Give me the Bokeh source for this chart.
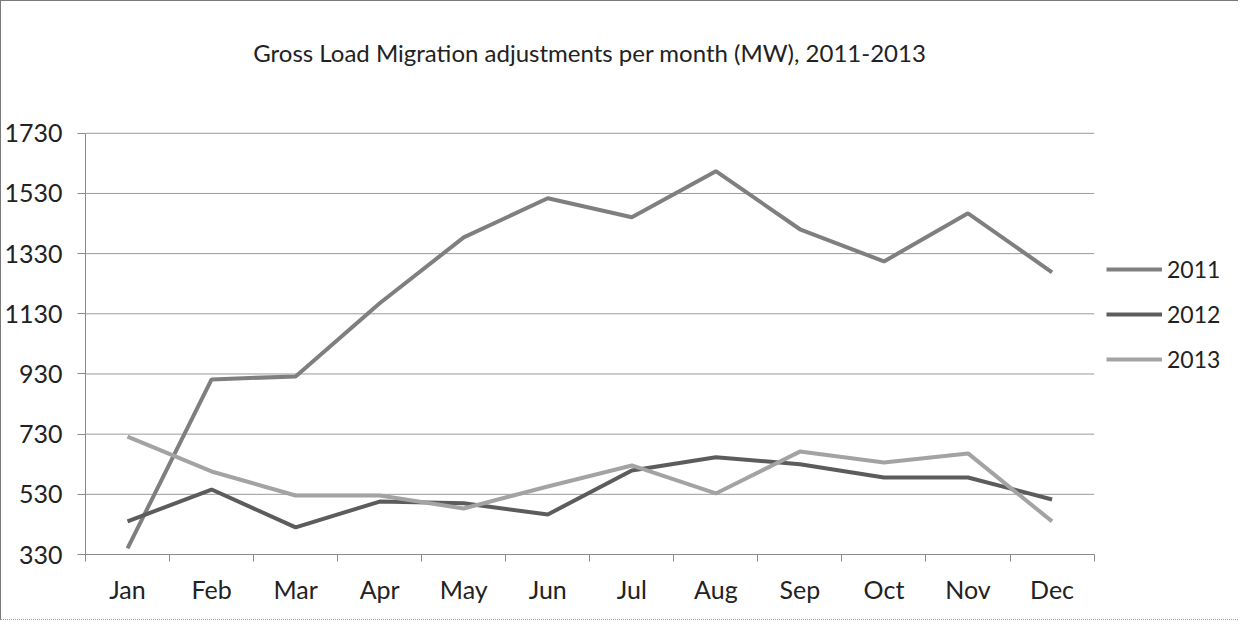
import numpy as np
from bokeh.plotting import figure
from bokeh.models import FixedTicker, Legend, LegendItem, ColumnDataSource, Range1d, Label
from bokeh.embed import file_html
from bokeh.resources import INLINE

months = ["Jan", "Feb", "Mar", "Apr", "May", "Jun", "Jul", "Aug", "Sep", "Oct", "Nov", "Dec"]
y2011 = [350, 912, 922, 1165, 1384, 1514, 1451, 1604, 1411, 1304, 1464, 1268]
y2012 = [440, 546, 420, 506, 500, 463, 609, 653, 630, 586, 586, 513]
y2013 = [722, 606, 526, 526, 483, 556, 626, 533, 672, 636, 666, 440]
y_ticks = [330, 530, 730, 930, 1130, 1330, 1530, 1730]
title_text = "Gross Load Migration adjustments per month (MW), 2011-2013"

FONT = "Lato"
n = len(months)
x = np.arange(n) + 0.5
ymin, ymax = y_ticks[0], y_ticks[-1]

# frame spans the whole canvas except left/bottom axis areas; axes bounded to the chart area
p = figure(width=1238, height=620, output_backend="svg", toolbar_location=None,
           x_range=Range1d(0, 13.73), y_range=Range1d(ymin, 2168),
           min_border_left=80, min_border_right=0, min_border_top=0, min_border_bottom=67)
p.styles = {"border-top": "1px solid #7a7a7a", "border-left": "1px solid #7a7a7a",
            "border-bottom": "1px dotted #9a9a9a"}
p.outline_line_color = None
p.background_fill_color = "white"
p.border_fill_color = "white"

# grid lines limited to the chart area
p.xgrid.grid_line_color = None
p.ygrid.grid_line_color = None
grid_src = ColumnDataSource(dict(x0=[0] * len(y_ticks), x1=[n] * len(y_ticks), y=y_ticks))
p.segment(x0="x0", x1="x1", y0="y", y1="y", source=grid_src, line_color="#9a9a9a", line_width=1)

# y axis
p.yaxis.ticker = FixedTicker(ticks=y_ticks)
p.yaxis.bounds = (ymin, ymax)
p.yaxis.axis_line_color = "#8a8a8a"
p.yaxis.major_tick_line_color = "#8a8a8a"
p.yaxis.major_tick_out = 8
p.yaxis.major_tick_in = 0
p.yaxis.minor_tick_line_color = None
p.yaxis.major_label_text_font = FONT
p.yaxis.major_label_text_font_size = "25px"
p.yaxis.major_label_text_color = "#222222"
p.yaxis.major_label_standoff = 15

# x axis
p.xaxis.ticker = FixedTicker(ticks=list(x), minor_ticks=list(range(n + 1)))
p.xaxis.bounds = (0, n)
p.xaxis.major_label_overrides = {float(xx): m for xx, m in zip(x, months)}
p.xaxis.axis_line_color = "#8a8a8a"
p.xaxis.major_tick_line_color = None
p.xaxis.minor_tick_line_color = "#8a8a8a"
p.xaxis.minor_tick_out = 7
p.xaxis.minor_tick_in = 0
p.xaxis.major_label_text_font = FONT
p.xaxis.major_label_text_font_size = "25px"
p.xaxis.major_label_text_color = "#222222"
p.xaxis.major_label_standoff = 12

src = ColumnDataSource(dict(x=x, y2011=y2011, y2012=y2012, y2013=y2013))
r1 = p.line("x", "y2011", source=src, line_color="#7f7f7f", line_width=4)
r2 = p.line("x", "y2012", source=src, line_color="#5c5c5c", line_width=4)
r3 = p.line("x", "y2013", source=src, line_color="#a3a3a3", line_width=4)

legend = Legend(items=[LegendItem(label="2011", renderers=[r1]),
                       LegendItem(label="2012", renderers=[r2]),
                       LegendItem(label="2013", renderers=[r3])],
                location=(1021, 181), orientation="vertical")
legend.border_line_color = None
legend.background_fill_alpha = 0
legend.glyph_width = 56
legend.glyph_height = 20
legend.spacing = 17
legend.padding = 0
legend.margin = 0
legend.label_standoff = 5
legend.label_height = 28
legend.label_text_font = FONT
legend.label_text_font_size = "23px"
legend.label_text_color = "#222222"
p.add_layout(legend, "center")

title = Label(x=6.0, y=2000, text=title_text, text_align="center", text_baseline="middle",
              text_font=FONT, text_font_size="24px", text_color="#222222")
p.add_layout(title)

open("out.html", "w").write(file_html(p, INLINE))
